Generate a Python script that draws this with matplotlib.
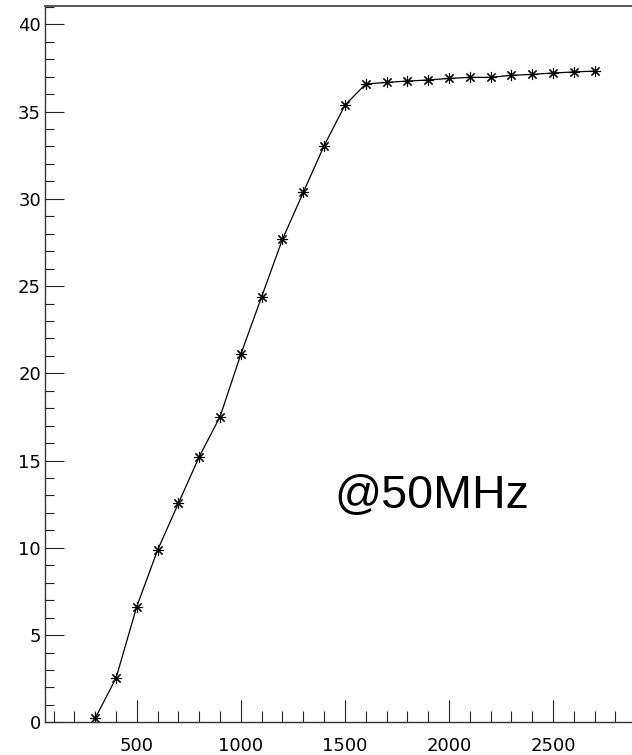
# plot.py
# Recreation of a ROOT-style graph: rising curve that saturates, labelled @50MHz

import matplotlib.pyplot as plt
from matplotlib.ticker import MultipleLocator

# Data
x_vals = [300, 400, 500, 600, 700, 800, 900, 1000, 1100, 1200, 1300, 1400,
          1500, 1600, 1700, 1800, 1900, 2000, 2100, 2200, 2300, 2400, 2500,
          2600, 2700]
y_vals = [0.23, 2.52, 6.63, 9.87, 12.55, 15.22, 17.51, 21.09, 24.39, 27.68,
          30.37, 33.04, 35.36, 36.58, 36.67, 36.75, 36.81, 36.90, 36.96, 36.96,
          37.08, 37.13, 37.21, 37.27, 37.32]
x_ticks = [500, 1000, 1500, 2000, 2500]
y_ticks = [0, 5, 10, 15, 20, 25, 30, 35, 40]
label = "@50MHz"

W, H = 632, 755
fig = plt.figure(figsize=(W / 100, H / 100), dpi=100)

# axes frame in pixels (right side runs past the picture edge, as in the crop)
left_px, right_px, top_px, bottom_px = 45.2, 644.6, 6.0, 722.3
ax = fig.add_axes([left_px / W, (H - bottom_px) / H,
                   (right_px - left_px) / W, (bottom_px - top_px) / H])

# asterisk marker with 8 arms, like ROOT's kStar
ax.plot(x_vals, y_vals, color="black", lw=0.9,
        marker=(8, 2, 0), markersize=8, markeredgewidth=0.8,
        markeredgecolor="black")

ax.set_xlim(60, 2940)
ax.set_ylim(0, 41.05)

ax.xaxis.set_major_locator(MultipleLocator(500))
ax.xaxis.set_minor_locator(MultipleLocator(100))
ax.yaxis.set_major_locator(MultipleLocator(5))
ax.yaxis.set_minor_locator(MultipleLocator(1))
ax.set_xticks(x_ticks)
ax.set_yticks(y_ticks)

ax.tick_params(axis="x", which="major", direction="in", length=15.5,
               width=0.8, color="#222222", pad=10.5, labelsize=13,
               top=False)
ax.tick_params(axis="x", which="minor", direction="in", length=7.7,
               width=0.8, color="#222222", top=False)
ax.tick_params(axis="y", which="major", direction="in", length=13.9,
               width=0.8, color="#222222", pad=3, labelsize=13,
               right=False)
ax.tick_params(axis="y", which="minor", direction="in", length=6.7,
               width=0.8, color="#222222", right=False)

for side in ["left", "bottom", "top"]:
    ax.spines[side].set_color("#333333")
    ax.spines[side].set_linewidth(1.0)
ax.spines["top"].set_color("#555555")
ax.spines["top"].set_linewidth(1.4)
ax.spines["right"].set_visible(False)

ax.text(1451, 12.3, label, fontsize=33.5, family="Liberation Sans",
        color="black", ha="left", va="baseline")

fig.savefig("out.png", dpi=100)
